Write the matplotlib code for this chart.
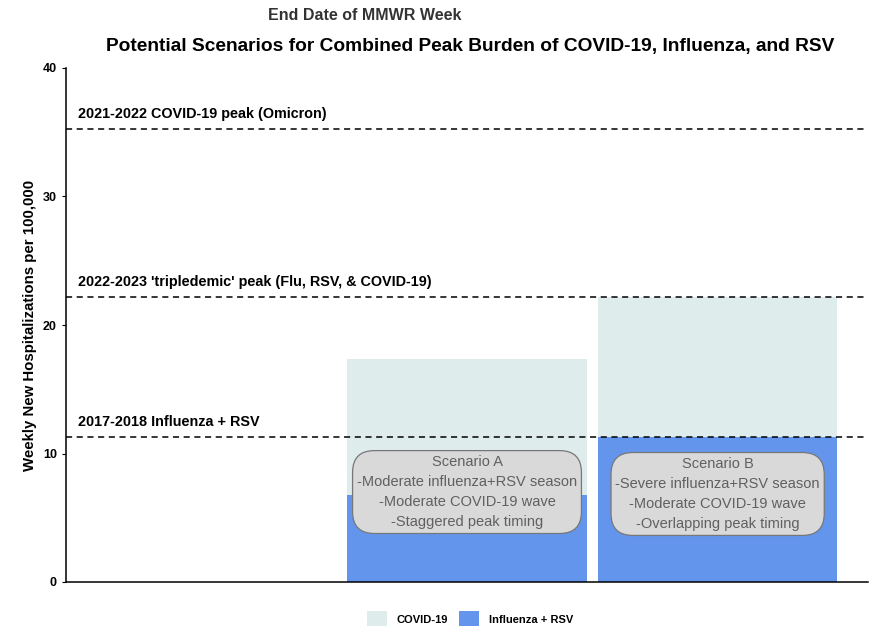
import matplotlib.pyplot as plt
import numpy as np

plt.rcParams["font.family"] = ["Liberation Sans", "DejaVu Sans"]

# data
scenarios = ["", "Scenario A", "Scenario B"]
flu_rsv = [0, 6.77, 11.28]
covid = [0, 10.58, 10.9]
ref_values = [35.25, 22.18, 11.28]
ref_labels = ["2021-2022 COVID-19 peak (Omicron)",
              "2022-2023 'tripledemic' peak (Flu, RSV, & COVID-19)",
              "2017-2018 Influenza + RSV"]
box_texts = [None,
             "Scenario A\n-Moderate influenza+RSV season\n-Moderate COVID-19 wave\n-Staggered peak timing",
             "Scenario B\n-Severe influenza+RSV season\n-Moderate COVID-19 wave\n-Overlapping peak timing"]
box_y = [0, 7.0, 6.85]

col_covid = "#deecec"
col_flu = "#6495ed"

fig = plt.figure(figsize=(8.71, 6.26), dpi=100)
ax = fig.add_axes([66 / 871, 44 / 626, 802 / 871, 514 / 626])

x = np.arange(1, len(scenarios) + 1)
ax.bar(x, flu_rsv, width=0.955, color=col_flu, label="Influenza + RSV", zorder=2)
ax.bar(x, covid, bottom=flu_rsv, width=0.955, color=col_covid, label="COVID-19", zorder=2)

for v, lab in zip(ref_values, ref_labels):
    ax.axhline(v, color="black", linestyle=(0, (4, 3)), linewidth=1.1, zorder=3)
    ax.text(0.448, v + 0.6, lab, fontsize=10.4, fontweight="bold", ha="left", va="bottom")

for xi, t, yb in zip(x, box_texts, box_y):
    if t is None:
        continue
    ax.text(xi, yb, t, ha="center", va="center", fontsize=10.5, color="#606060",
            linespacing=1.55, zorder=4,
            bbox=dict(boxstyle="round,pad=0.3,rounding_size=1.5", fc="#d9d9d9",
                      ec="#777777", lw=0.9))

ax.set_xlim(0.4, 3.6)
ax.set_ylim(0, 40)
ax.set_xticks([])
ax.set_yticks([0, 10, 20, 30, 40])
ax.tick_params(axis="y", labelsize=9, length=3, width=0.8)
for lab in ax.get_yticklabels():
    lab.set_fontweight("bold")
ax.set_ylabel("Weekly New Hospitalizations per 100,000", fontsize=10.8, fontweight="bold")
for s in ["top", "right"]:
    ax.spines[s].set_visible(False)
ax.spines["left"].set_linewidth(1.1)
ax.spines["bottom"].set_linewidth(1.1)

fig.text(365 / 871, 1 - 16 / 626, "End Date of MMWR Week", ha="center", va="center",
         fontsize=11.5, fontweight="bold", color="#333333")
fig.text(470 / 871, 1 - 47 / 626,
         "Potential Scenarios for Combined Peak Burden of COVID-19, Influenza, and RSV",
         ha="center", va="center", fontsize=13.8, fontweight="bold")

handles, labels = ax.get_legend_handles_labels()
leg = fig.legend(handles[::-1], labels[::-1], loc="center", bbox_to_anchor=(470 / 871, 1 - 619 / 626),
                 ncol=2, frameon=False, prop={"size": 8, "weight": "bold"},
                 handlelength=1.8, handleheight=1.8, columnspacing=1.0, handletextpad=0.9)

fig.savefig("out.png", dpi=100)
